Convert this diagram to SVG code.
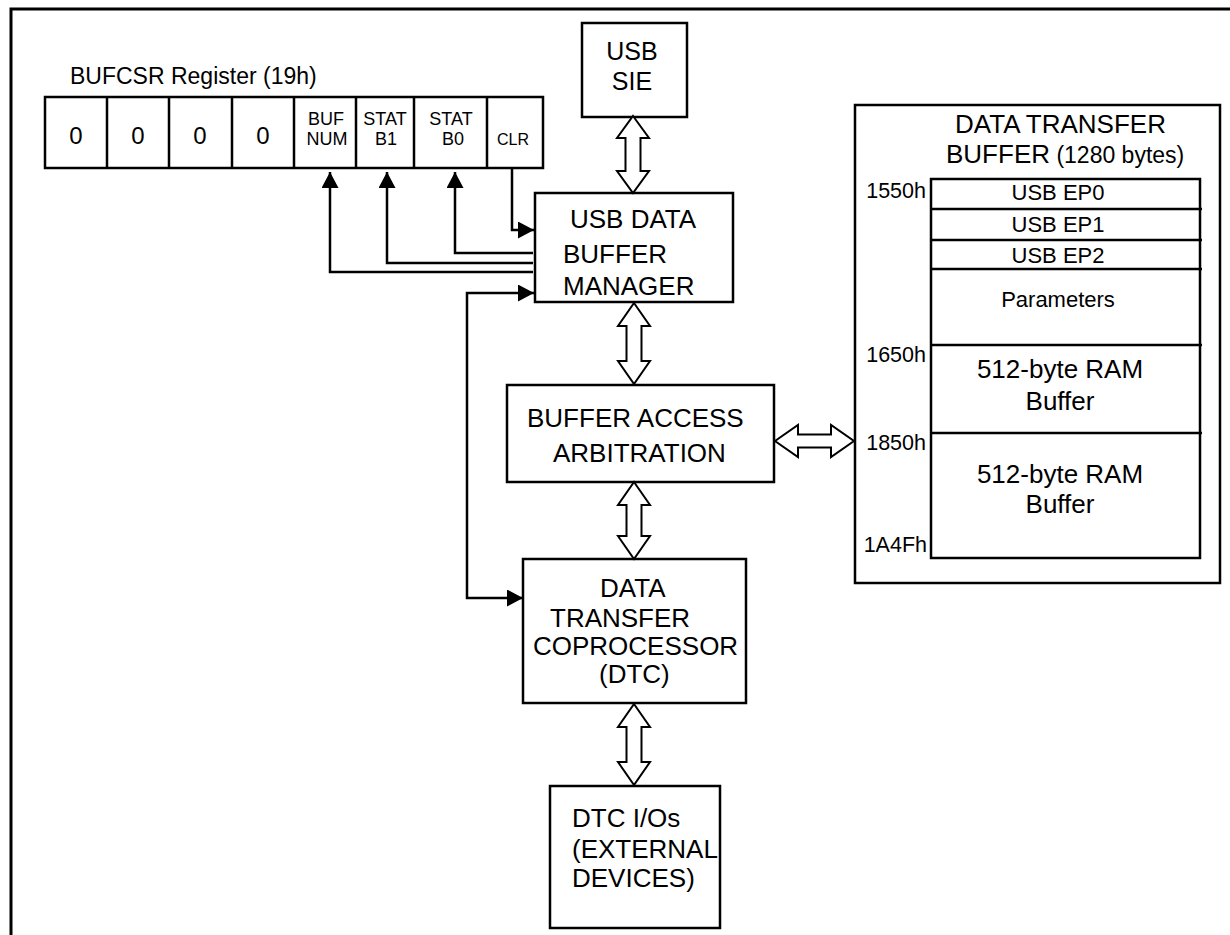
<svg xmlns="http://www.w3.org/2000/svg" width="1230" height="935" viewBox="0 0 1230 935">
<style>
.box{fill:#fff;stroke:#000;stroke-width:2.5}
.ln{fill:none;stroke:#000;stroke-width:2.5}
.wire{fill:none;stroke:#000;stroke-width:2.5}
.dbl{fill:#fff;stroke:#000;stroke-width:2;stroke-linejoin:miter}
text{font-family:"Liberation Sans",Arial,sans-serif;fill:#000}
.big{font-size:26px}
.mid{font-size:22px}
.sm{font-size:18px}
.c{text-anchor:middle}
.r{text-anchor:end}
</style>
<defs>
<marker id="ah" markerUnits="userSpaceOnUse" markerWidth="17" markerHeight="18" refX="16" refY="8.5" orient="auto" viewBox="0 0 17 18">
<path d="M0,0 L16,8.5 L0,17 z" fill="#000"/>
</marker>
</defs>
<rect width="1230" height="935" fill="#fff"/>
<g id="frame">
<path class="ln" d="M11,935 V9 H1230" style="stroke-width:3"/>
</g>

<g id="bufcsr-register">
<text x="70" y="84" style="font-size:23px">BUFCSR Register (19h)</text>
<rect class="box" x="45" y="97" width="498" height="71"/>
<path class="ln" d="M107,97V168 M169,97V168 M232,97V168 M294,97V168 M356,97V168 M414,97V168 M487,97V168"/>
<text class="c" x="76" y="144" style="font-size:24px">0</text>
<text class="c" x="138" y="144" style="font-size:24px">0</text>
<text class="c" x="200" y="144" style="font-size:24px">0</text>
<text class="c" x="263" y="144" style="font-size:24px">0</text>
<text class="c sm" x="326" y="125">BUF</text>
<text class="c sm" x="327" y="145">NUM</text>
<text class="c sm" x="385" y="125">STAT</text>
<text class="c sm" x="386" y="145">B1</text>
<text class="c sm" x="451" y="125">STAT</text>
<text class="c sm" x="453" y="145">B0</text>
<text class="c" x="513" y="145" style="font-size:16px">CLR</text>
</g>

<g id="usb-sie">
<rect class="box" x="582" y="23" width="105" height="94"/>
<text class="c" x="632" y="60" style="font-size:25px">USB</text>
<text class="c" x="632" y="90" style="font-size:25px">SIE</text>
</g>

<g id="usb-data-buffer-manager">
<rect class="box" x="535" y="193" width="198" height="109"/>
<text class="big" x="570" y="228">USB DATA</text>
<text class="big" x="563" y="263">BUFFER</text>
<text class="big" x="563" y="295">MANAGER</text>
</g>

<g id="buffer-access-arbitration">
<rect class="box" x="507" y="385" width="267" height="97"/>
<text class="big" x="527" y="427">BUFFER ACCESS</text>
<text class="big" x="553" y="462">ARBITRATION</text>
</g>

<g id="dtc">
<rect class="box" x="523" y="559" width="223" height="144"/>
<text class="big" x="600" y="597">DATA</text>
<text class="big" x="550" y="627">TRANSFER</text>
<text class="big" x="533" y="655">COPROCESSOR</text>
<text class="big" x="599" y="683">(DTC)</text>
</g>

<g id="dtc-ios">
<rect class="box" x="550" y="786" width="170" height="142"/>
<text class="big" x="572" y="827">DTC I/Os</text>
<text class="big" x="572" y="858">(EXTERNAL</text>
<text class="big" x="572" y="887">DEVICES)</text>
</g>

<g id="data-transfer-buffer">
<rect class="box" x="855" y="105" width="365" height="478"/>
<text class="big" x="955" y="133">DATA TRANSFER</text>
<text x="946" y="163"><tspan class="big">BUFFER</tspan><tspan style="font-size:23px"> (1280 bytes)</tspan></text>
<rect class="box" x="931" y="179" width="269" height="379"/>
<path class="ln" d="M931,209H1202 M931,240H1202 M931,269H1202 M931,345H1202 M931,433H1202"/>
<text class="c mid" x="1058" y="200">USB EP0</text>
<text class="c mid" x="1058" y="232">USB EP1</text>
<text class="c mid" x="1058" y="263">USB EP2</text>
<text class="c mid" x="1058" y="307">Parameters</text>
<text class="c big" x="1060" y="378">512-byte RAM</text>
<text class="c big" x="1060" y="410">Buffer</text>
<text class="c big" x="1060" y="483">512-byte RAM</text>
<text class="c big" x="1060" y="513">Buffer</text>
<text class="r" x="926" y="198" style="font-size:21.5px">1550h</text>
<text class="r" x="926" y="362" style="font-size:21.5px">1650h</text>
<text class="r" x="926" y="450" style="font-size:21.5px">1850h</text>
<text class="r" x="927" y="552" style="font-size:21.5px">1A4Fh</text>
</g>

<g id="connectors">
<path class="wire" d="M533,272H330V172" marker-end="url(#ah)"/>
<path class="wire" d="M533,263H387V172" marker-end="url(#ah)"/>
<path class="wire" d="M533,253H455V172" marker-end="url(#ah)"/>
<path class="wire" d="M512,168V230H534" marker-end="url(#ah)"/>
<path class="wire" d="M467,445V293H534" marker-end="url(#ah)"/>
<path class="wire" d="M467,445V598H523" marker-end="url(#ah)"/>
<polygon class="dbl" points="633,116 649,138 640.5,138 640.5,171 649,171 633,193 617,171 625.5,171 625.5,138 617,138"/>
<polygon class="dbl" points="634,303 650,326 641.5,326 641.5,361 650,361 634,384 618,361 626.5,361 626.5,326 618,326"/>
<polygon class="dbl" points="634,482 650,505 641.5,505 641.5,536 650,536 634,559 618,536 626.5,536 626.5,505 618,505"/>
<polygon class="dbl" points="634,704 650,727 641.5,727 641.5,762 650,762 634,785 618,762 626.5,762 626.5,727 618,727"/>
<polygon class="dbl" points="775,441 798,425 798,434.5 831,434.5 831,425 854,441 831,457 831,447.5 798,447.5 798,457"/>
</g>
</svg>
